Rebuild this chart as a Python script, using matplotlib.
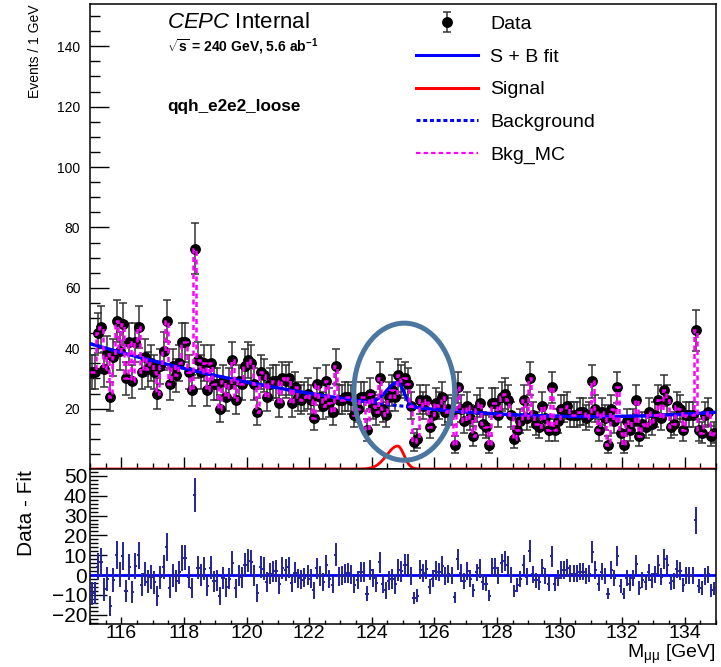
import numpy as np
import matplotlib
matplotlib.use("Agg")
import matplotlib.pyplot as plt
from matplotlib.lines import Line2D
from matplotlib.patches import Ellipse
from matplotlib.ticker import MultipleLocator

plt.rcParams["font.family"] = ["Liberation Sans", "DejaVu Sans"]
plt.rcParams["mathtext.fontset"] = "custom"
plt.rcParams["mathtext.rm"] = "Liberation Sans"
plt.rcParams["mathtext.it"] = "Liberation Sans:italic"
plt.rcParams["mathtext.bf"] = "Liberation Sans:bold"

# M_mumu binning (0.1 GeV bins)
m_lo, m_hi, n_bins = 115.0, 135.0, 200

# events per bin (pseudo-data, identical to Bkg_MC histogram)
counts = np.array([
    32, 32, 45, 47, 33, 38, 24, 37, 49, 39,
    48, 30, 42, 29, 42, 47, 32, 37, 33, 35,
    32, 25, 34, 39, 49, 28, 34, 31, 35, 42,
    42, 32, 26, 73, 36, 32, 35, 26, 35, 28,
    28, 20, 29, 24, 28, 36, 23, 29, 28, 34,
    36, 35, 28, 19, 32, 31, 24, 28, 29, 29,
    22, 30, 29, 30, 22, 27, 24, 23, 24, 25,
    23, 17, 28, 24, 21, 29, 22, 19, 34, 23,
    23, 24, 24, 23, 18, 20, 24, 24, 13, 25,
    21, 19, 30, 20, 18, 24, 26, 24, 31, 29,
    30, 28, 21, 9, 10, 23, 21, 23, 14, 18,
    22, 21, 24, 19, 20, 19, 8, 27, 20, 16,
    21, 17, 11, 20, 22, 15, 14, 8, 22, 22,
    18, 24, 25, 23, 18, 10, 13, 16, 23, 17,
    30, 18, 15, 14, 21, 17, 13, 27, 13, 16,
    20, 20, 21, 18, 18, 18, 19, 19, 17, 18,
    29, 20, 13, 19, 17, 8, 20, 16, 27, 12,
    8, 16, 13, 16, 23, 11, 15, 14, 19, 15,
    18, 23, 17, 26, 23, 14, 15, 21, 20, 13,
    18, 18, 18, 46, 13, 12, 18, 19, 11, 12,
], dtype=float)

# fitted background: polynomial in t = (m - 125) / 10
bkg_coeffs = [20.8, -11.35, 9.35]
# fitted signal: bifurcated gaussian
sig_peak = 7.6
sig_mass = 124.83
sig_width_lo = 0.35
sig_width_hi = 0.20


def bkg_model(m):
    t = (m - 125.0) / 10.0
    return bkg_coeffs[0] + bkg_coeffs[1] * t + bkg_coeffs[2] * t ** 2


def sig_model(m):
    w = np.where(m < sig_mass, sig_width_lo, sig_width_hi)
    return sig_peak * np.exp(-0.5 * ((m - sig_mass) / w) ** 2)


edges = np.linspace(m_lo, m_hi, n_bins + 1)
centers = 0.5 * (edges[:-1] + edges[1:])
errors = np.sqrt(counts)
resid = counts - (bkg_model(centers) + sig_model(centers))
mm = np.linspace(m_lo, m_hi, 2001)

W, H = 721, 667
fig = plt.figure(figsize=(W / 100, H / 100), dpi=100)
ax = fig.add_axes([90 / W, 1 - 469 / H, 626 / W, 465 / H])
axr = fig.add_axes([90 / W, 1 - 624 / H, 626 / W, 155 / H])

# ---- top panel ----
data_h = ax.errorbar(centers, counts, yerr=errors, fmt="o", color="black",
                     ecolor="#333333", ms=6.8, elinewidth=1.1, capsize=3,
                     capthick=1.1, zorder=3)
ax.plot(mm, sig_model(mm), color="red", lw=2.0, zorder=4)
ax.plot(mm, bkg_model(mm), color="blue", lw=2.2, ls=(0, (1.3, 0.9)), zorder=4)
ax.plot(mm, bkg_model(mm) + sig_model(mm), color="blue", lw=2.4, zorder=4)
ax.stairs(counts, edges, baseline=None, color="magenta", lw=1.8,
          ls=(0, (2.0, 1.4)), zorder=5)

ax.add_patch(Ellipse((125.04, 25.6), 3.22, 45.4, fill=False, ec="#4a76a0",
                     lw=3.6, zorder=6, clip_on=False))

ax.set_xlim(m_lo, m_hi)
ax.set_ylim(0, 154)
ax.set_yticks(np.arange(20, 141, 20))
ax.yaxis.set_minor_locator(MultipleLocator(5))
ax.xaxis.set_major_locator(MultipleLocator(2))
ax.xaxis.set_minor_locator(MultipleLocator(0.5))
ax.tick_params(which="both", direction="in", top=False, right=False,
               labelbottom=False, width=1.0)
ax.tick_params(axis="y", which="major", length=14, labelsize=10, pad=7)
ax.tick_params(axis="y", which="minor", length=7)
ax.tick_params(axis="x", which="major", length=8.5)
ax.tick_params(axis="x", which="minor", length=4.5)

handles = [
    data_h,
    Line2D([], [], color="blue", lw=2.2),
    Line2D([], [], color="red", lw=2.2),
    Line2D([], [], color="blue", lw=2.2, ls=(0, (1.3, 0.9))),
    Line2D([], [], color="magenta", lw=1.6, ls=(0, (2.0, 1.4))),
]
labels = ["Data", "S + B fit", "Signal", "Background", "Bkg_MC"]
ax.legend(handles, labels, loc="upper left", bbox_to_anchor=(0.521, 0.976),
          frameon=False, fontsize=14, handlelength=3.2, handletextpad=0.6,
          labelspacing=0.78, borderpad=0, borderaxespad=0)

fig.text(167 / W, 1 - 23 / H, r"$\it{CEPC}$ Internal", fontsize=16,
         ha="left", va="center")
fig.text(167 / W, 1 - 47 / H, r"$\sqrt{\mathbf{s}}$ = 240 GeV, 5.6 ab$^{\mathbf{-1}}$",
         fontsize=10, fontweight="bold", ha="left", va="center")
fig.text(167 / W, 1 - 107 / H, "qqh_e2e2_loose", fontsize=12.3,
         fontweight="bold", ha="left", va="center")
fig.text(35 / W, 1 - 4 / H, "Events / 1 GeV", fontsize=10, rotation=90,
         ha="center", va="top")

# ---- residual panel ----
axr.axhline(0, color="blue", lw=2.0, zorder=2)
axr.errorbar(centers, resid, yerr=errors, xerr=0.05, fmt="none",
             ecolor="#2323a0", elinewidth=1.4, zorder=3)
axr.set_xlim(m_lo, m_hi)
axr.set_ylim(-24.7, 53.5)
axr.yaxis.set_major_locator(MultipleLocator(10))
axr.yaxis.set_minor_locator(MultipleLocator(2))
axr.xaxis.set_major_locator(MultipleLocator(2))
axr.xaxis.set_minor_locator(MultipleLocator(0.5))
axr.tick_params(which="both", direction="in", top=False, right=False, width=1.0)
axr.tick_params(axis="y", which="major", length=12, labelsize=15, pad=2)
axr.tick_params(axis="y", which="minor", length=6)
axr.tick_params(axis="x", which="major", length=5, labelsize=14, pad=0.8)
axr.tick_params(axis="x", which="minor", length=3)

fig.text(27 / W, 1 - 470 / H, "Data - Fit", fontsize=15, rotation=90,
         ha="center", va="top")
fig.text(716 / W, 1 - 658 / H, r"M$_{\rm μμ}$ [GeV]", fontsize=14,
         ha="right", va="baseline")

for a in (ax, axr):
    for s in a.spines.values():
        s.set_linewidth(1.1)

fig.savefig("out.png", dpi=100)
